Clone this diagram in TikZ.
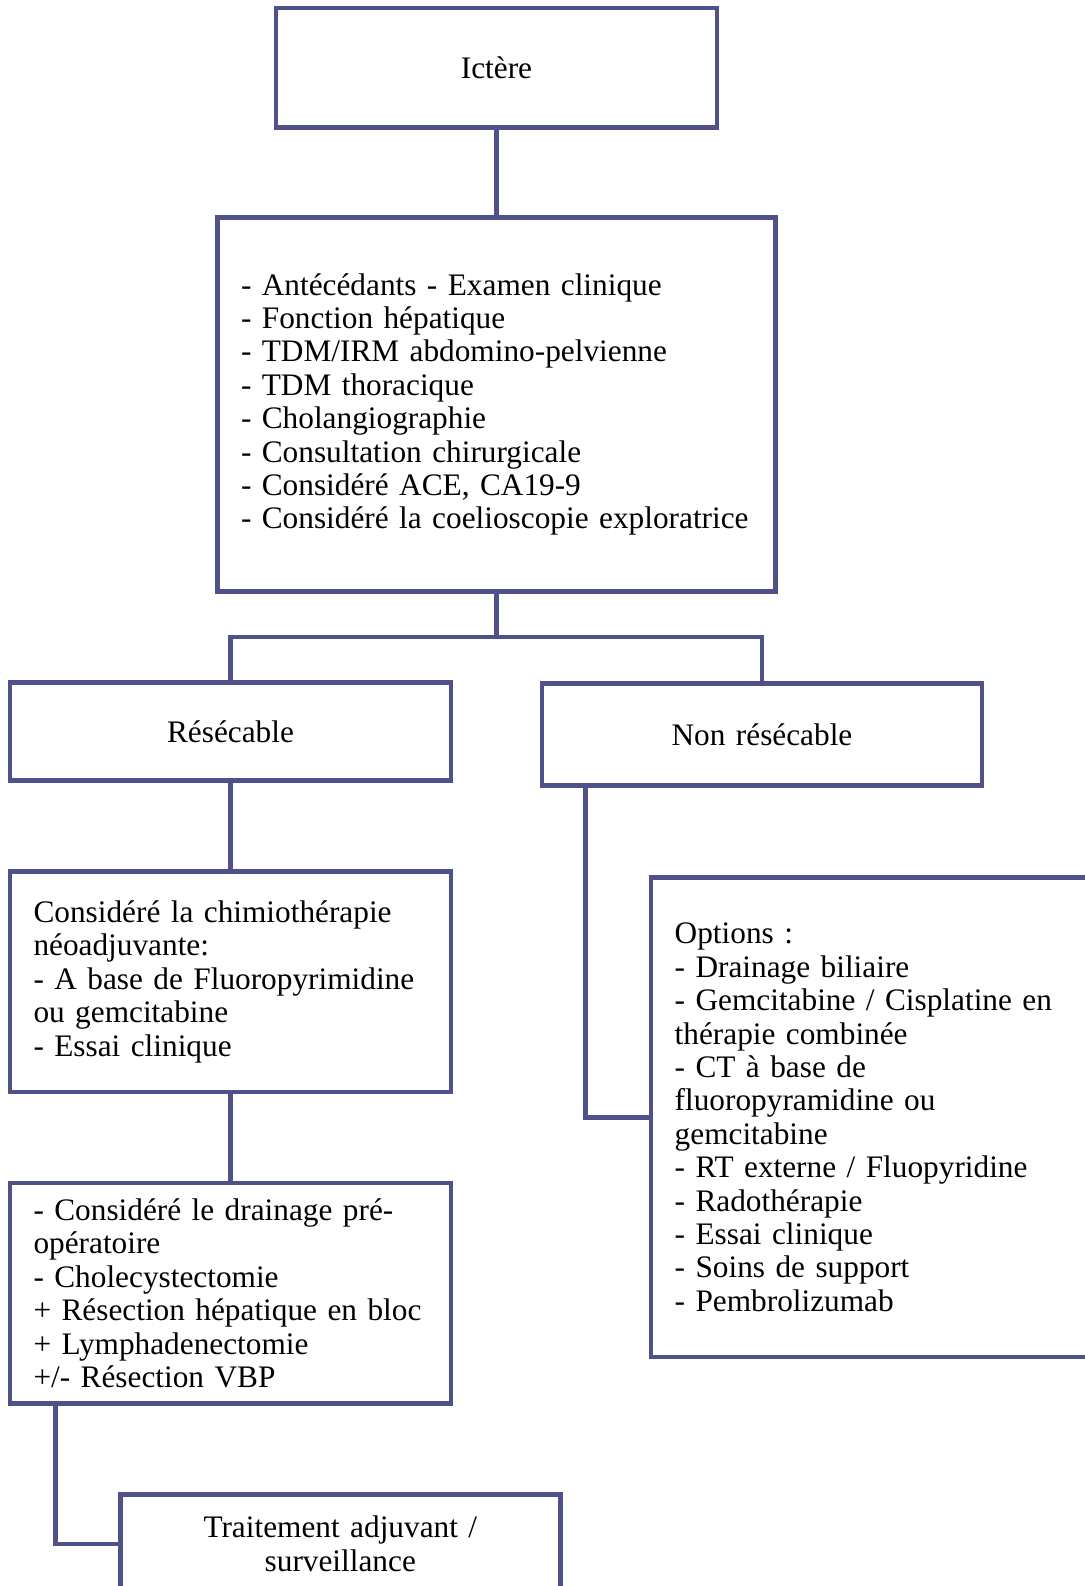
\documentclass[tikz,border=0pt]{standalone}
\usepackage{fontspec}
\setmainfont{Liberation Serif}
\usepackage{xcolor}
\usepackage{tikz}
\usetikzlibrary{calc}

\definecolor{boxcol}{RGB}{79,81,138}

\begin{document}
\begin{tikzpicture}[
    x=1pt,
    y=-1pt,
    font=\fontsize{31.3}{33.4}\selectfont,
    link/.style={line width=4.5pt,draw=boxcol},
    box/.style={draw=boxcol,line width=4.5pt,fill=white,
        anchor=north west,outer sep=0pt,inner xsep=23.5pt,inner ysep=0pt,
        align=left,text width=394pt},
    cbox/.style={box,align=center}
]

\useasboundingbox (0,0) rectangle (1084,1586);

% ---------------------------------------------------------
% Top of the tree
% ---------------------------------------------------------

\node[cbox,minimum height=119.5pt] (ict) at (276,8)
    {Ictère};

\node[box,text width=511pt,minimum height=374pt] (exam) at (217.5,217.5)
    {- Antécédants - Examen clinique\\
     - Fonction hépatique\\
     - TDM/IRM abdomino-pelvienne\\
     - TDM thoracique\\
     - Cholangiographie\\
     - Consultation chirurgicale\\
     - Considéré ACE, CA19-9\\
     - Considéré la coelioscopie exploratrice};

\draw[link] (ict.south) -- (exam.north);

% ---------------------------------------------------------
% Branches
% ---------------------------------------------------------

\node[cbox,minimum height=98pt] (res) at (10,682.5)
    {Résécable};

\node[cbox,text width=393pt,minimum height=102pt] (nonres) at (542,683.5)
    {Non résécable};

\coordinate (fork) at ($(exam.south)+(0,45.5)$);

\draw[link] (exam.south) -- (fork);
\draw[link] (res.north) |- (fork) -| (nonres.north);

% ---------------------------------------------------------
% Resectable side
% ---------------------------------------------------------

\node[box,minimum height=220.5pt] (neo) at (10,871.5)
    {Considéré la chimiothérapie\\
     néoadjuvante:\\
     - A base de Fluoropyrimidine\\
     ou gemcitabine\\
     - Essai clinique};

\node[box,minimum height=220.5pt] (chir) at (10,1183)
    {- Considéré le drainage pré-\\
     opératoire\\
     - Cholecystectomie\\
     + Résection hépatique en bloc\\
     + Lymphadenectomie\\
     +/- Résection VBP};

\node[cbox,text width=393pt,minimum height=98.5pt] (adj) at (120.3,1494.5)
    {Traitement adjuvant /\\ surveillance};

\draw[link] (res.south) -- (neo.north);
\draw[link] (neo.south) -- (chir.north);
\draw[link] ([xshift=45.5pt]chir.south west) |- (adj.west);

% ---------------------------------------------------------
% Non resectable side
% ---------------------------------------------------------

\node[box,minimum height=479.5pt] (opt) at (651.2,877.7)
    {Options :\\
     - Drainage biliaire\\
     - Gemcitabine / Cisplatine en\\
     thérapie combinée\\
     - CT à base de\\
     fluoropyramidine ou\\
     gemcitabine\\
     - RT externe / Fluopyridine\\
     - Radothérapie\\
     - Essai clinique\\
     - Soins de support\\
     - Pembrolizumab};

\draw[link] ([xshift=43.5pt]nonres.south west) |- (opt.west);

\end{tikzpicture}
\end{document}
